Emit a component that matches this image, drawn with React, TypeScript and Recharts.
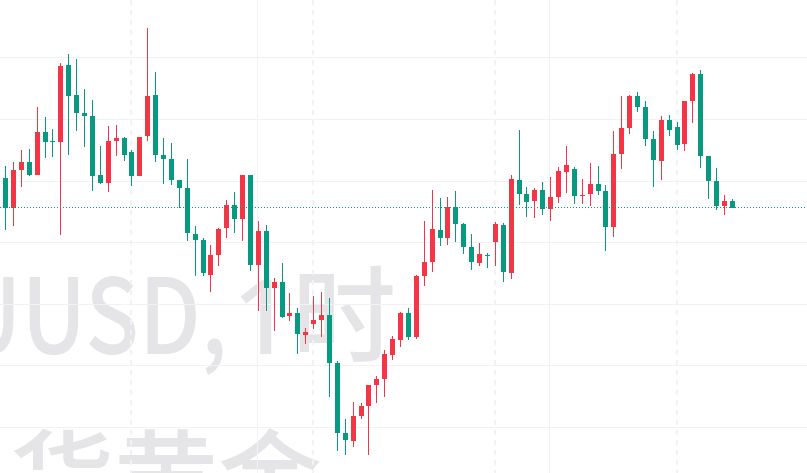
import React from "react";
import { ComposedChart, Bar, XAxis, YAxis, ReferenceLine, CartesianGrid } from "recharts";

const opens = [
  2482.2, 2479.2, 2483.0, 2483.8, 2482.5, 2486.8, 2485.9, 2485.8, 2493.5, 2490.5,
  2488.7, 2488.4, 2482.5, 2481.7, 2485.9, 2486.2, 2484.8, 2482.4, 2486.4, 2490.5,
  2484.5, 2484.1, 2482.0, 2481.2, 2476.6, 2476.0, 2472.5, 2474.5, 2477.2, 2479.5,
  2478.1, 2482.5, 2473.5, 2476.9, 2471.2, 2471.8, 2468.4, 2468.7, 2466.5, 2467.6,
  2468.0, 2468.5, 2463.7, 2456.7, 2455.9, 2458.4, 2459.4, 2461.5, 2462.1, 2464.5,
  2466.0, 2468.7, 2466.3, 2472.4, 2473.8, 2477.0, 2476.2, 2479.3, 2477.6, 2475.3,
  2473.7, 2474.5, 2475.8, 2477.5, 2472.7, 2482.0, 2480.6, 2479.9, 2481.0, 2479.1,
  2480.3, 2482.8, 2483.1, 2480.4, 2480.6, 2481.6, 2480.9, 2477.3, 2484.6, 2487.2,
  2490.4, 2489.3, 2486.1, 2483.9, 2488.0, 2487.3, 2485.6, 2489.9, 2492.6, 2484.4,
  2481.9, 2479.4, 2479.9,
];
const closes = [
  2479.2, 2483.0, 2483.8, 2482.5, 2486.8, 2485.8, 2485.8, 2493.4, 2490.4, 2488.7,
  2488.4, 2482.4, 2481.7, 2485.9, 2486.2, 2484.5, 2482.4, 2486.3, 2490.4, 2484.5,
  2484.1, 2482.0, 2481.2, 2476.7, 2476.0, 2472.7, 2474.5, 2477.1, 2479.5, 2478.1,
  2482.5, 2473.5, 2476.9, 2471.2, 2471.8, 2468.3, 2468.7, 2466.6, 2466.8, 2468.0,
  2468.5, 2463.7, 2456.7, 2456.0, 2458.4, 2459.4, 2461.5, 2462.1, 2464.6, 2466.1,
  2468.7, 2466.3, 2472.4, 2473.8, 2477.1, 2476.2, 2479.3, 2477.6, 2475.3, 2473.8,
  2474.6, 2474.4, 2477.6, 2472.8, 2482.1, 2480.6, 2479.8, 2481.0, 2479.1, 2480.3,
  2482.9, 2483.5, 2480.4, 2480.5, 2481.6, 2480.9, 2477.3, 2484.6, 2487.2, 2490.4,
  2489.3, 2486.1, 2484.0, 2488.0, 2487.0, 2485.5, 2489.9, 2492.6, 2484.4, 2481.9,
  2479.4, 2479.9, 2479.2,
];
const highs = [
  2483.4, 2483.8, 2485.0, 2485.1, 2489.3, 2488.3, 2487.1, 2493.7, 2494.6, 2494.1,
  2491.1, 2490.0, 2485.4, 2487.4, 2487.5, 2486.3, 2485.0, 2486.3, 2497.2, 2492.8,
  2486.2, 2485.7, 2482.0, 2484.1, 2477.4, 2476.2, 2475.5, 2477.2, 2480.0, 2480.8,
  2482.5, 2482.5, 2477.9, 2477.5, 2472.2, 2473.7, 2470.7, 2469.2, 2467.2, 2470.4,
  2470.8, 2470.2, 2463.9, 2458.1, 2459.8, 2459.7, 2461.5, 2462.4, 2465.0, 2466.4,
  2468.8, 2469.2, 2472.5, 2477.9, 2481.0, 2480.2, 2480.3, 2480.9, 2477.7, 2476.6,
  2475.7, 2474.7, 2477.8, 2477.7, 2482.5, 2487.0, 2481.3, 2481.2, 2481.8, 2482.3,
  2483.3, 2485.4, 2483.3, 2482.1, 2483.7, 2483.4, 2481.5, 2486.9, 2490.4, 2490.5,
  2490.8, 2489.9, 2486.9, 2488.4, 2488.5, 2487.8, 2489.9, 2492.7, 2493.0, 2484.4,
  2483.2, 2480.5, 2480.1,
];
const lows = [
  2477.0, 2477.4, 2481.3, 2482.4, 2482.5, 2484.2, 2484.3, 2476.5, 2484.5, 2486.9,
  2485.3, 2480.9, 2481.6, 2480.8, 2484.4, 2483.9, 2481.4, 2482.4, 2485.9, 2483.8,
  2481.6, 2481.5, 2479.2, 2475.9, 2472.4, 2472.4, 2470.8, 2473.4, 2476.2, 2476.7,
  2475.9, 2472.9, 2468.9, 2468.9, 2466.9, 2468.2, 2467.9, 2464.6, 2465.6, 2467.1,
  2466.3, 2460.3, 2454.9, 2454.5, 2455.3, 2458.1, 2454.5, 2459.7, 2460.3, 2464.0,
  2465.3, 2466.0, 2466.1, 2471.4, 2472.8, 2475.4, 2475.5, 2475.8, 2474.6, 2473.0,
  2473.4, 2473.2, 2473.4, 2471.8, 2472.1, 2479.5, 2478.3, 2478.2, 2478.5, 2477.9,
  2479.7, 2480.7, 2479.6, 2479.6, 2479.4, 2480.5, 2474.9, 2476.3, 2483.1, 2486.6,
  2488.8, 2485.4, 2481.3, 2482.0, 2486.4, 2485.0, 2484.9, 2487.7, 2483.2, 2480.1,
  2479.0, 2478.5, 2479.2,
];

const priceGrid = [2494.25, 2488.05, 2481.85, 2475.75, 2469.55, 2463.45, 2457.25];
const solidTimeGrid = [31.835, 68.797];
const dashedTimeGrid = [15.823, 38.861, 61.899, 84.937];
const lastPrice = 2479.25;
const titleLatin = "XAUUSD,";
const titleInterval = "1";
const titleUnit = "时";
const subtitleLine = "现货黄金";

const UP = "#F23645";
const DOWN = "#089981";
const GRID = "#F1F2F5";
const WATERMARK = "#E5E5E8";

const data = opens.map((o, i) => ({
  i,
  open: o,
  close: closes[i],
  high: highs[i],
  low: lows[i],
  range: [lows[i], highs[i]],
}));

function Candle(props: any) {
  const { x, y, width, height, payload } = props;
  if (!payload || !height) return null;
  const { open, close, high, low } = payload;
  const pxPerUnit = height / (high - low);
  const at = (v: number) => y + (high - v) * pxPerUnit;
  const cx = Math.floor(x + width / 2);
  const color = close >= open ? UP : DOWN;
  const top = Math.round(at(Math.max(open, close)));
  const bottom = Math.round(at(Math.min(open, close)));
  const wickTop = Math.round(at(high));
  const wickBottom = Math.round(at(low));
  return (
    <g shapeRendering="crispEdges">
      <rect x={cx} y={wickTop} width={1} height={wickBottom - wickTop} fill={color} />
      <rect x={cx - 2} y={top} width={5} height={Math.max(1, bottom - top)} fill={color} />
    </g>
  );
}

const wmStyle: React.CSSProperties = {
  position: "absolute",
  whiteSpace: "nowrap",
  fontFamily: '"Noto Sans CJK SC", "Noto Sans", sans-serif',
  fontSize: 104,
  fontWeight: 500,
  lineHeight: "100px",
  color: WATERMARK,
};

export default function App() {
  return (
    <div
      style={{
        position: "absolute",
        left: 0,
        top: 0,
        width: 807,
        height: 473,
        overflow: "hidden",
        background: "#fff",
      }}
    >
      <div style={{ ...wmStyle, right: 807 - 396, top: 259 }}>
        <span
          style={{
            display: "inline-block",
            position: "relative",
            left: 10,
            transform: "scaleX(0.85)",
            transformOrigin: "right center",
          }}
        >
          {titleLatin}
        </span>{" "}
        <span
          style={{
            fontFamily: '"Noto Sans", sans-serif',
            letterSpacing: -8,
            position: "relative",
            left: -8,
          }}
        >
          {titleInterval}
        </span>
        <span>{titleUnit}</span>
      </div>
      <div style={{ ...wmStyle, right: 807 - 322, top: 423 }}>{subtitleLine}</div>
      <div style={{ position: "absolute", left: 0, top: 0 }}>
        <ComposedChart
          width={807}
          height={473}
          data={data}
          margin={{ top: 0, right: 0, bottom: 0, left: 0 }}
        >
          <XAxis dataKey="i" type="number" domain={[-0.7595, 101.392]} allowDataOverflow hide />
          <YAxis type="number" domain={[2452.7, 2500]} allowDataOverflow hide />
          <CartesianGrid
            stroke={GRID}
            strokeWidth={1}
            horizontalValues={priceGrid}
            verticalValues={solidTimeGrid}
            shapeRendering="crispEdges"
          />
          <CartesianGrid
            stroke={GRID}
            strokeWidth={2}
            strokeDasharray="5 5"
            horizontal={false}
            verticalValues={dashedTimeGrid}
            shapeRendering="crispEdges"
          />
          <Bar dataKey="range" barSize={5} isAnimationActive={false} shape={<Candle />} />
          <ReferenceLine y={lastPrice} stroke={DOWN} strokeWidth={1} strokeDasharray="1 2" />
        </ComposedChart>
      </div>
    </div>
  );
}
